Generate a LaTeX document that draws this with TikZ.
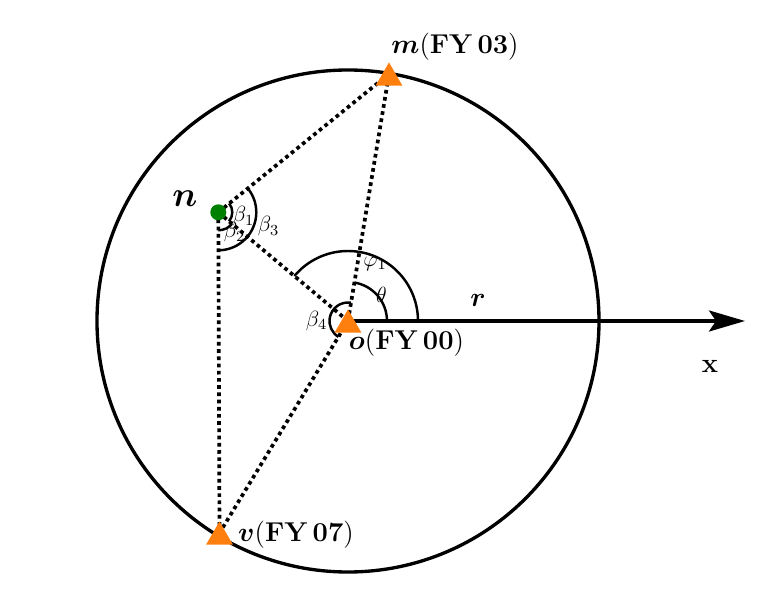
\RequirePackage{fix-cm}
\documentclass[tikz,border=0pt]{standalone}
\usepackage{amsmath}
\usetikzlibrary{arrows.meta,shapes.geometric}
\definecolor{markorange}{RGB}{255,127,14}
\definecolor{markgreen}{RGB}{0,128,0}
\tikzset{
  station/.style={regular polygon,regular polygon sides=3,minimum size=0.62cm,inner sep=0pt,fill=markorange,yshift=-0.078cm},
  link/.style={line width=2.1pt,dash pattern=on 2.1pt off 2pt},
  angarc/.style={line width=1.4pt},
  lbl/.style={font=\fontsize{15.5}{18}\selectfont},
  anglbl/.style={font=\fontsize{12.5}{15}\selectfont}
}
\begin{document}
\begin{tikzpicture}[>=latex,scale=1]
  \useasboundingbox(-6.96,-5.7)rectangle(8.62,6.42);
  \coordinate(o)at(0,0);
  \coordinate(m)at(0.82,4.94);
  \coordinate(n)at(-2.594,2.174);
  \coordinate(v)at(-2.57,-4.24);
  \coordinate(xend)at(7.94,0);
  \draw[line width=1.9pt](o)circle(5.02);
  \draw[-{Stealth[length=0.72cm,width=0.42cm,inset=0.14cm]},line width=1.9pt](o)--(xend);
  \draw[link](n)--(m);
  \draw[link](n)--(o);
  \draw[link](n)--(v);
  \draw[link](o)--(m);
  \draw[link](o)--(v);
  \draw[angarc]([shift={(0:0.78)}]o)arc[start angle=0,end angle=80.6,radius=0.78];
  \draw[angarc]([shift={(0:1.4)}]o)arc[start angle=0,end angle=140,radius=1.4];
  \draw[angarc]([shift={(80.6:0.37)}]o)arc[start angle=80.6,end angle=238.8,radius=0.37];
  \draw[angarc]([shift={(39:0.28)}]n)arc[start angle=39,end angle=-40,radius=0.28];
  \draw[angarc]([shift={(-40:0.36)}]n)arc[start angle=-40,end angle=-89.8,radius=0.36];
  \draw[angarc]([shift={(39:0.76)}]n)arc[start angle=39,end angle=-89.8,radius=0.76];
  \node[station](So)at(o){};
  \node[station](Sm)at(m){};
  \node[station](Sv)at(v){};
  \fill[markgreen](n)circle(0.16);
  \node[lbl]at(2.14,5.48){$\boldsymbol{m}\mathbf{(FY\,03)}$};
  \node[lbl]at(1.17,-0.44){$\boldsymbol{o}\mathbf{(FY\,00)}$};
  \node[lbl]at(-1.04,-4.28){$\boldsymbol{v}\mathbf{(FY\,07)}$};
  \node[font=\fontsize{20}{24}\selectfont]at(-3.26,2.44){$\boldsymbol{n}$};
  \node[lbl]at(2.6,0.42){$\boldsymbol{r}$};
  \node[lbl]at(7.24,-0.9){$\mathbf{x}$};
  \node[anglbl]at(0.67,0.52){$\theta$};
  \node[anglbl]at(0.54,1.15){$\varphi_1$};
  \node[anglbl]at(-0.63,0){$\beta_4$};
  \node[anglbl]at(-2.09,2.09){$\beta_1$};
  \node[anglbl]at(-2.27,1.77){$\beta_2$};
  \node[anglbl]at(-1.59,1.89){$\beta_3$};
\end{tikzpicture}
\end{document}
